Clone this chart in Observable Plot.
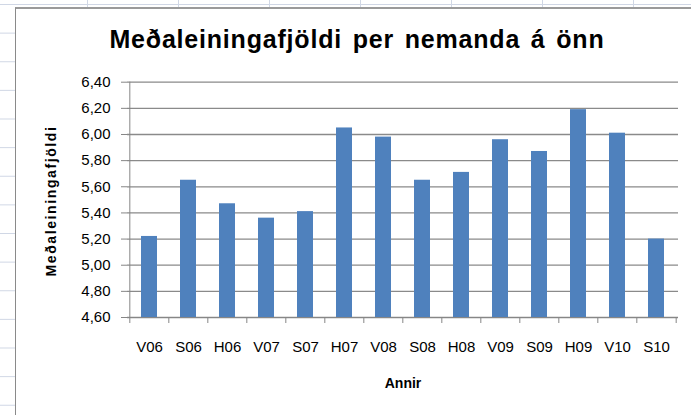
<!DOCTYPE html>
<html>
<head>
<meta charset="utf-8">
<script src="https://cdn.jsdelivr.net/npm/d3@7"></script>
<script src="https://cdn.jsdelivr.net/npm/@observablehq/plot@0.6"></script>
<style>
  html, body { margin: 0; padding: 0; width: 691px; height: 415px; overflow: hidden; background: #fff; font-family: "Liberation Sans", Arial, sans-serif; }
  #sheet { position: absolute; left: 0; top: 0; width: 691px; height: 415px;
    background-image: linear-gradient(to right, #d0d7e5 1px, transparent 1px), linear-gradient(to bottom, #d0d7e5 1px, transparent 1px);
    background-size: 91px 28.64px; background-position: 87px 4px; }
  #chartArea { position: absolute; left: 15px; top: 7px; width: 720px; height: 430px; background: #fff;
    border-left: 1px solid #8a8a8a; border-top: 2px solid #9a9a9a; }
  #title { position: absolute; left: 357px; top: 27px; transform: translateX(-50%); white-space: nowrap;
    font-size: 25px; line-height: 25px; font-weight: bold; letter-spacing: 0.8px; word-spacing: 3px; color: #000; }
  #ytitle { position: absolute; left: 51px; top: 201px; transform: translate(-50%, -50%) rotate(-90deg); white-space: nowrap;
    font-size: 14px; font-weight: bold; letter-spacing: 1.6px; color: #000; }
  #xtitle { position: absolute; left: 403px; top: 383px; transform: translate(-50%, -50%); white-space: nowrap;
    font-size: 14px; font-weight: bold; color: #000; }
  #plot { position: absolute; left: 15px; top: 62px; }
</style>
</head>
<body>
<div id="sheet"></div>
<div id="chartArea"></div>
<div id="title">Meðaleiningafjöldi per nemanda á önn</div>
<div id="ytitle">Meðaleiningafjöldi</div>
<div id="xtitle">Annir</div>
<div id="plot"></div>
<script>
const categories = ["V06", "S06", "H06", "V07", "S07", "H07", "V08", "S08", "H08", "V09", "S09", "H09", "V10", "S10"];
const values = [5.22, 5.65, 5.47, 5.36, 5.41, 6.05, 5.98, 5.65, 5.71, 5.96, 5.87, 6.19, 6.01, 5.20];
const yTicks = [4.6, 4.8, 5.0, 5.2, 5.4, 5.6, 5.8, 6.0, 6.2, 6.4];

const data = categories.map((c, i) => ({annir: c, value: values[i]}));
const W = 676, H = 353, mL = 112, mR = 13, mT = 19.7, mB = 98;
const step = (W - mL - mR) / categories.length;
const fmt = d => d.toFixed(2).replace(".", ",");
const axisColor = "#868686";

const chart = Plot.plot({
  width: W, height: H,
  marginLeft: mL, marginRight: mR, marginTop: mT, marginBottom: mB,
  style: {background: "transparent", overflow: "visible", fontFamily: "'Liberation Sans', Arial, sans-serif", color: "#000"},
  x: {domain: categories, paddingInner: 0.59, paddingOuter: 0.295, axis: null},
  y: {domain: [yTicks[0], yTicks[yTicks.length - 1]], axis: null},
  marks: [
    Plot.gridY(yTicks, {stroke: "#8a8a8a", strokeOpacity: 1, strokeWidth: 1.3}),
    Plot.barY(data, {x: "annir", y1: yTicks[0], y2: "value", fill: "#4f81bd"}),
    Plot.ruleY([yTicks[0]], {stroke: axisColor}),
    Plot.ruleX([categories[0]], {dx: -step / 2, stroke: axisColor}),
    Plot.axisY({ticks: yTicks, tickSize: 6, tickPadding: 11, tickFormat: fmt, fontSize: 15, label: null, stroke: axisColor, fill: "#000"}),
    Plot.axisX({tickSize: 6, tickFormat: () => "", dx: -step / 2, label: null, stroke: axisColor}),
    Plot.axisX({ticks: [categories[categories.length - 1]], tickSize: 6, tickFormat: () => "", dx: step / 2, label: null, stroke: axisColor}),
    Plot.axisX({tickSize: 0, tickPadding: 24, fontSize: 15, label: null, fill: "#000"})
  ]
});
document.getElementById("plot").appendChild(chart);
</script>
</body>
</html>
